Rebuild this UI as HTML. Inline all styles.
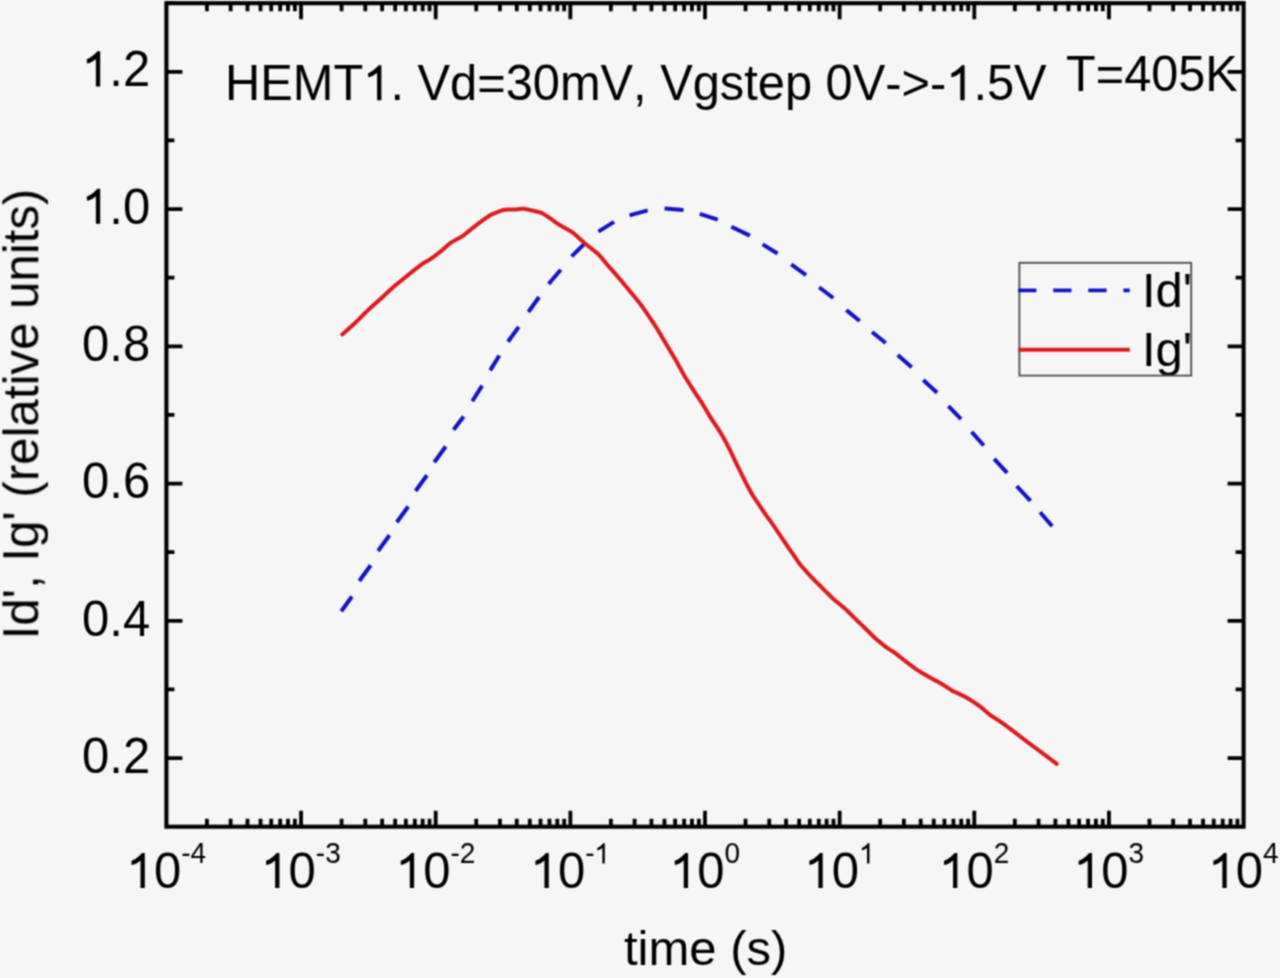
<!DOCTYPE html>
<html><head><meta charset="utf-8"><style>
html,body{margin:0;padding:0;background:#f6f6f6;overflow:hidden;}
svg{display:block;}

text{font-family:"Liberation Sans",sans-serif;font-kerning:none;font-feature-settings:"kern" 0,"liga" 0;white-space:pre;}
</style></head><body>
<svg width="1280" height="978" viewBox="0 0 1280 978">
<defs><filter id="soft" x="0" y="0" width="1280" height="978" filterUnits="userSpaceOnUse" color-interpolation-filters="sRGB"><feConvolveMatrix order="3" kernelMatrix="1 2 1 2 4 2 1 2 1" divisor="16" edgeMode="duplicate"/></filter>
<g id="content" style="font-family:'Liberation Sans',sans-serif;font-kerning:none;font-feature-settings:'kern' 0,'liga' 0;white-space:pre;">
<rect x="0" y="0" width="1280" height="978" fill="#f6f6f6"/>
<path d="M206.93 826.70V818.70M206.93 3.20V11.20M230.64 826.70V818.70M230.64 3.20V11.20M247.47 826.70V818.70M247.47 3.20V11.20M260.52 826.70V818.70M260.52 3.20V11.20M271.18 826.70V818.70M271.18 3.20V11.20M280.19 826.70V818.70M280.19 3.20V11.20M288.00 826.70V818.70M288.00 3.20V11.20M294.89 826.70V818.70M294.89 3.20V11.20M301.05 826.70V810.70M301.05 3.20V19.20M341.58 826.70V818.70M341.58 3.20V11.20M365.29 826.70V818.70M365.29 3.20V11.20M382.12 826.70V818.70M382.12 3.20V11.20M395.17 826.70V818.70M395.17 3.20V11.20M405.83 826.70V818.70M405.83 3.20V11.20M414.84 826.70V818.70M414.84 3.20V11.20M422.65 826.70V818.70M422.65 3.20V11.20M429.54 826.70V818.70M429.54 3.20V11.20M435.70 826.70V810.70M435.70 3.20V19.20M476.23 826.70V818.70M476.23 3.20V11.20M499.94 826.70V818.70M499.94 3.20V11.20M516.77 826.70V818.70M516.77 3.20V11.20M529.82 826.70V818.70M529.82 3.20V11.20M540.48 826.70V818.70M540.48 3.20V11.20M549.49 826.70V818.70M549.49 3.20V11.20M557.30 826.70V818.70M557.30 3.20V11.20M564.19 826.70V818.70M564.19 3.20V11.20M570.35 826.70V810.70M570.35 3.20V19.20M610.88 826.70V818.70M610.88 3.20V11.20M634.59 826.70V818.70M634.59 3.20V11.20M651.42 826.70V818.70M651.42 3.20V11.20M664.47 826.70V818.70M664.47 3.20V11.20M675.13 826.70V818.70M675.13 3.20V11.20M684.14 826.70V818.70M684.14 3.20V11.20M691.95 826.70V818.70M691.95 3.20V11.20M698.84 826.70V818.70M698.84 3.20V11.20M705.00 826.70V810.70M705.00 3.20V19.20M745.53 826.70V818.70M745.53 3.20V11.20M769.24 826.70V818.70M769.24 3.20V11.20M786.07 826.70V818.70M786.07 3.20V11.20M799.12 826.70V818.70M799.12 3.20V11.20M809.78 826.70V818.70M809.78 3.20V11.20M818.79 826.70V818.70M818.79 3.20V11.20M826.60 826.70V818.70M826.60 3.20V11.20M833.49 826.70V818.70M833.49 3.20V11.20M839.65 826.70V810.70M839.65 3.20V19.20M880.18 826.70V818.70M880.18 3.20V11.20M903.89 826.70V818.70M903.89 3.20V11.20M920.72 826.70V818.70M920.72 3.20V11.20M933.77 826.70V818.70M933.77 3.20V11.20M944.43 826.70V818.70M944.43 3.20V11.20M953.44 826.70V818.70M953.44 3.20V11.20M961.25 826.70V818.70M961.25 3.20V11.20M968.14 826.70V818.70M968.14 3.20V11.20M974.30 826.70V810.70M974.30 3.20V19.20M1014.83 826.70V818.70M1014.83 3.20V11.20M1038.54 826.70V818.70M1038.54 3.20V11.20M1055.37 826.70V818.70M1055.37 3.20V11.20M1068.42 826.70V818.70M1068.42 3.20V11.20M1079.08 826.70V818.70M1079.08 3.20V11.20M1088.09 826.70V818.70M1088.09 3.20V11.20M1095.90 826.70V818.70M1095.90 3.20V11.20M1102.79 826.70V818.70M1102.79 3.20V11.20M1108.95 826.70V810.70M1108.95 3.20V19.20M1149.48 826.70V818.70M1149.48 3.20V11.20M1173.19 826.70V818.70M1173.19 3.20V11.20M1190.02 826.70V818.70M1190.02 3.20V11.20M1203.07 826.70V818.70M1203.07 3.20V11.20M1213.73 826.70V818.70M1213.73 3.20V11.20M1222.74 826.70V818.70M1222.74 3.20V11.20M1230.55 826.70V818.70M1230.55 3.20V11.20M1237.44 826.70V818.70M1237.44 3.20V11.20M166.40 758.08H182.40M1243.60 758.08H1227.60M166.40 689.45H174.40M1243.60 689.45H1235.60M166.40 620.83H182.40M1243.60 620.83H1227.60M166.40 552.20H174.40M1243.60 552.20H1235.60M166.40 483.58H182.40M1243.60 483.58H1227.60M166.40 414.95H174.40M1243.60 414.95H1235.60M166.40 346.32H182.40M1243.60 346.32H1227.60M166.40 277.70H174.40M1243.60 277.70H1235.60M166.40 209.08H182.40M1243.60 209.08H1227.60M166.40 140.45H174.40M1243.60 140.45H1235.60M166.40 71.83H182.40M1243.60 71.83H1227.60M166.40 3.20H174.40M1243.60 3.20H1235.60" stroke="#000" stroke-width="3.8" fill="none"/>
<rect x="166.40" y="3.20" width="1077.20" height="823.50" fill="none" stroke="#000" stroke-width="4.1"/>
<path d="M341.25 611.25L351.96 596.53M359.29 580.97L370.71 565.28M378.04 550.97L389.46 535.28M396.79 522.22L408.21 506.53M415.54 490.97L426.96 475.28M434.29 462.22L445.71 446.53M453.58 429.76L463.62 416.44M472.26 401.21L482.14 385.59M490.17 370.42L499.33 355.48M508.00 341.77L518.70 326.93M528.40 311.98L539.10 297.02M548.62 284.02L560.78 269.68M571.65 256.45L584.60 243.55M598.38 231.63L614.02 221.92M629.54 215.31L647.66 210.44M664.60 208.50L683.50 210.10M699.76 213.94L717.74 219.66M731.32 226.68L749.88 235.62M762.58 244.37L777.52 253.53M791.23 264.40L806.07 275.10M819.15 287.27L833.25 298.03M846.37 310.15L859.73 320.95M872.07 331.94L885.68 343.06M897.70 355.01L911.70 367.29M923.21 380.04L937.14 392.71M948.41 406.04L961.09 419.06M971.60 431.91L983.75 445.49M994.18 458.82L1007.12 472.78M1016.68 486.02L1030.52 500.88M1040.12 512.19L1052.20 526.25" stroke="#1212c4" stroke-width="4" fill="none" stroke-linecap="butt"/>
<path d="M342.20 334.50 L343.33 333.51 L344.45 332.51 L345.58 331.52 L346.70 330.52 L347.83 329.53 L348.95 328.53 L350.08 327.54 L351.20 326.54 L352.32 325.54 L353.43 324.53 L354.53 323.50 L355.61 322.46 L356.68 321.41 L357.75 320.35 L358.81 319.29 L359.87 318.23 L360.93 317.17 L361.99 316.11 L363.06 315.04 L364.12 313.98 L365.19 312.93 L366.26 311.87 L367.34 310.84 L368.44 309.81 L369.54 308.79 L370.66 307.78 L371.77 306.78 L372.89 305.77 L374.00 304.77 L375.12 303.76 L376.23 302.75 L377.35 301.75 L378.46 300.74 L379.57 299.73 L380.69 298.72 L381.79 297.71 L382.90 296.69 L384.00 295.67 L385.10 294.65 L386.20 293.63 L387.30 292.60 L388.40 291.58 L389.50 290.56 L390.60 289.54 L391.71 288.53 L392.83 287.53 L393.97 286.55 L395.12 285.58 L396.28 284.63 L397.44 283.68 L398.60 282.73 L399.77 281.78 L400.93 280.83 L402.10 279.88 L403.26 278.93 L404.43 277.98 L405.59 277.04 L406.76 276.09 L407.93 275.15 L409.09 274.20 L410.26 273.26 L411.43 272.32 L412.60 271.37 L413.77 270.43 L414.95 269.50 L416.13 268.57 L417.32 267.66 L418.52 266.76 L419.72 265.86 L420.93 264.96 L422.14 264.08 L423.37 263.23 L424.63 262.41 L425.92 261.65 L427.22 260.92 L428.53 260.19 L429.82 259.43 L431.08 258.62 L432.31 257.77 L433.52 256.88 L434.73 255.98 L435.93 255.08 L437.12 254.17 L438.32 253.27 L439.51 252.35 L440.69 251.42 L441.85 250.47 L442.98 249.49 L444.10 248.49 L445.21 247.48 L446.32 246.47 L447.44 245.46 L448.57 244.48 L449.73 243.55 L450.94 242.68 L452.20 241.87 L453.49 241.11 L454.80 240.37 L456.11 239.65 L457.43 238.92 L458.74 238.19 L460.05 237.46 L461.34 236.70 L462.61 235.91 L463.85 235.06 L465.05 234.17 L466.23 233.25 L467.40 232.31 L468.57 231.36 L469.73 230.41 L470.90 229.47 L472.06 228.52 L473.23 227.57 L474.40 226.63 L475.57 225.69 L476.74 224.75 L477.93 223.83 L479.13 222.93 L480.34 222.05 L481.56 221.18 L482.79 220.31 L484.01 219.44 L485.24 218.57 L486.47 217.71 L487.70 216.85 L488.95 216.02 L490.22 215.25 L491.54 214.55 L492.89 213.92 L494.27 213.34 L495.67 212.78 L497.06 212.24 L498.47 211.70 L499.87 211.16 L501.27 210.65 L502.69 210.20 L504.12 209.86 L505.58 209.65 L507.06 209.57 L508.55 209.57 L510.05 209.60 L511.55 209.62 L513.04 209.61 L514.54 209.54 L516.03 209.42 L517.52 209.27 L519.01 209.10 L520.50 208.94 L521.99 208.84 L523.47 208.84 L524.94 208.97 L526.41 209.20 L527.87 209.51 L529.33 209.84 L530.80 210.18 L532.26 210.52 L533.72 210.85 L535.19 211.18 L536.65 211.51 L538.11 211.86 L539.54 212.26 L540.94 212.75 L542.29 213.36 L543.59 214.07 L544.87 214.84 L546.14 215.64 L547.40 216.45 L548.66 217.28 L549.90 218.12 L551.12 218.99 L552.34 219.87 L553.54 220.77 L554.75 221.66 L555.96 222.54 L557.20 223.40 L558.45 224.21 L559.73 225.00 L561.03 225.76 L562.33 226.51 L563.63 227.25 L564.93 228.00 L566.23 228.75 L567.53 229.50 L568.83 230.25 L570.13 231.01 L571.41 231.79 L572.66 232.61 L573.87 233.48 L575.04 234.41 L576.16 235.40 L577.27 236.41 L578.36 237.44 L579.46 238.47 L580.56 239.49 L581.66 240.51 L582.77 241.52 L583.89 242.52 L585.04 243.48 L586.20 244.43 L587.37 245.37 L588.55 246.31 L589.73 247.24 L590.90 248.17 L592.08 249.11 L593.26 250.04 L594.43 250.98 L595.60 251.92 L596.75 252.87 L597.88 253.86 L598.95 254.90 L599.98 255.99 L600.96 257.11 L601.93 258.26 L602.89 259.42 L603.85 260.57 L604.80 261.73 L605.76 262.89 L606.73 264.04 L607.70 265.18 L608.69 266.31 L609.68 267.44 L610.67 268.57 L611.67 269.69 L612.67 270.81 L613.66 271.94 L614.66 273.06 L615.66 274.18 L616.65 275.31 L617.63 276.45 L618.60 277.59 L619.57 278.74 L620.53 279.89 L621.50 281.05 L622.46 282.20 L623.42 283.35 L624.38 284.51 L625.34 285.66 L626.30 286.81 L627.26 287.97 L628.22 289.12 L629.18 290.28 L630.14 291.44 L631.09 292.60 L632.05 293.76 L633.00 294.92 L633.95 296.08 L634.90 297.25 L635.85 298.41 L636.79 299.58 L637.74 300.74 L638.68 301.91 L639.60 303.10 L640.50 304.30 L641.39 305.51 L642.26 306.73 L643.13 307.96 L643.99 309.19 L644.85 310.42 L645.72 311.65 L646.58 312.88 L647.43 314.11 L648.29 315.35 L649.13 316.59 L649.97 317.84 L650.80 319.09 L651.63 320.34 L652.45 321.59 L653.28 322.85 L654.10 324.10 L654.93 325.36 L655.75 326.62 L656.56 327.88 L657.35 329.15 L658.13 330.44 L658.90 331.73 L659.66 333.03 L660.41 334.32 L661.17 335.62 L661.93 336.92 L662.69 338.21 L663.45 339.51 L664.22 340.80 L664.99 342.09 L665.76 343.38 L666.53 344.66 L667.30 345.95 L668.07 347.24 L668.84 348.53 L669.61 349.82 L670.38 351.11 L671.15 352.40 L671.92 353.69 L672.69 354.98 L673.46 356.27 L674.23 357.56 L674.99 358.85 L675.74 360.15 L676.48 361.46 L677.22 362.77 L677.94 364.08 L678.66 365.40 L679.39 366.72 L680.11 368.03 L680.83 369.35 L681.55 370.67 L682.28 371.98 L683.00 373.30 L683.74 374.61 L684.49 375.91 L685.25 377.20 L686.03 378.48 L686.83 379.76 L687.63 381.03 L688.43 382.30 L689.23 383.57 L690.03 384.84 L690.84 386.11 L691.64 387.38 L692.44 388.64 L693.25 389.91 L694.06 391.18 L694.88 392.44 L695.70 393.69 L696.53 394.94 L697.36 396.19 L698.20 397.44 L699.03 398.69 L699.86 399.94 L700.69 401.19 L701.51 402.45 L702.33 403.71 L703.12 404.99 L703.90 406.27 L704.68 407.56 L705.44 408.85 L706.20 410.14 L706.97 411.43 L707.73 412.73 L708.50 414.02 L709.26 415.31 L710.04 416.60 L710.83 417.87 L711.63 419.14 L712.46 420.40 L713.29 421.65 L714.12 422.90 L714.96 424.14 L715.80 425.39 L716.63 426.64 L717.47 427.89 L718.29 429.14 L719.10 430.41 L719.89 431.68 L720.66 432.97 L721.43 434.26 L722.19 435.56 L722.95 436.85 L723.70 438.15 L724.44 439.46 L725.16 440.78 L725.86 442.10 L726.55 443.44 L727.24 444.77 L727.93 446.11 L728.61 447.44 L729.29 448.78 L729.97 450.12 L730.65 451.46 L731.31 452.81 L731.96 454.17 L732.60 455.52 L733.23 456.88 L733.87 458.25 L734.50 459.61 L735.14 460.97 L735.77 462.33 L736.42 463.68 L737.07 465.04 L737.73 466.38 L738.40 467.73 L739.07 469.08 L739.73 470.42 L740.40 471.77 L741.07 473.11 L741.73 474.46 L742.40 475.80 L743.07 477.15 L743.75 478.49 L744.42 479.83 L745.09 481.18 L745.76 482.52 L746.44 483.86 L747.12 485.20 L747.82 486.53 L748.53 487.85 L749.25 489.17 L749.98 490.48 L750.71 491.79 L751.45 493.10 L752.20 494.40 L752.98 495.68 L753.78 496.95 L754.60 498.21 L755.44 499.46 L756.27 500.70 L757.11 501.95 L757.95 503.19 L758.79 504.44 L759.62 505.69 L760.45 506.94 L761.28 508.19 L762.11 509.44 L762.95 510.69 L763.78 511.94 L764.63 513.18 L765.50 514.41 L766.37 515.62 L767.26 516.84 L768.16 518.04 L769.05 519.25 L769.94 520.46 L770.82 521.68 L771.69 522.90 L772.55 524.13 L773.41 525.36 L774.26 526.60 L775.11 527.84 L775.96 529.08 L776.81 530.31 L777.66 531.55 L778.50 532.79 L779.35 534.04 L780.18 535.28 L781.02 536.53 L781.85 537.78 L782.69 539.03 L783.52 540.28 L784.35 541.53 L785.19 542.78 L786.02 544.03 L786.86 545.28 L787.70 546.52 L788.54 547.76 L789.39 549.01 L790.24 550.24 L791.09 551.48 L791.94 552.72 L792.79 553.95 L793.64 555.19 L794.49 556.43 L795.35 557.66 L796.20 558.90 L797.05 560.14 L797.91 561.37 L798.77 562.60 L799.65 563.81 L800.57 565.00 L801.52 566.15 L802.51 567.29 L803.51 568.40 L804.52 569.52 L805.53 570.63 L806.54 571.74 L807.55 572.85 L808.56 573.96 L809.57 575.07 L810.59 576.17 L811.61 577.28 L812.64 578.37 L813.69 579.45 L814.74 580.51 L815.80 581.57 L816.87 582.63 L817.94 583.69 L819.00 584.75 L820.07 585.80 L821.14 586.86 L822.20 587.92 L823.27 588.98 L824.33 590.04 L825.40 591.10 L826.46 592.16 L827.52 593.22 L828.58 594.28 L829.65 595.34 L830.71 596.40 L831.79 597.44 L832.89 598.47 L834.01 599.47 L835.15 600.44 L836.30 601.41 L837.46 602.36 L838.61 603.32 L839.77 604.27 L840.93 605.23 L842.09 606.18 L843.24 607.15 L844.38 608.12 L845.50 609.12 L846.60 610.15 L847.68 611.19 L848.74 612.25 L849.81 613.31 L850.87 614.37 L851.93 615.43 L852.99 616.49 L854.06 617.55 L855.13 618.61 L856.20 619.66 L857.28 620.70 L858.36 621.75 L859.44 622.79 L860.52 623.83 L861.60 624.87 L862.68 625.91 L863.77 626.96 L864.84 628.00 L865.92 629.05 L866.99 630.10 L868.06 631.16 L869.12 632.22 L870.18 633.28 L871.25 634.34 L872.31 635.40 L873.38 636.46 L874.46 637.49 L875.57 638.51 L876.70 639.49 L877.85 640.46 L879.01 641.41 L880.17 642.36 L881.33 643.31 L882.50 644.26 L883.67 645.20 L884.85 646.13 L886.04 647.04 L887.26 647.91 L888.51 648.75 L889.77 649.56 L891.04 650.36 L892.30 651.17 L893.56 651.99 L894.79 652.84 L896.00 653.73 L897.19 654.64 L898.37 655.57 L899.54 656.51 L900.71 657.45 L901.88 658.39 L903.06 659.33 L904.23 660.26 L905.42 661.18 L906.61 662.09 L907.81 663.00 L909.01 663.90 L910.21 664.80 L911.42 665.70 L912.62 666.60 L913.82 667.49 L915.03 668.38 L916.26 669.26 L917.49 670.10 L918.76 670.91 L920.03 671.70 L921.32 672.47 L922.61 673.24 L923.91 674.00 L925.20 674.76 L926.50 675.52 L927.79 676.28 L929.10 677.02 L930.41 677.76 L931.72 678.48 L933.04 679.20 L934.36 679.91 L935.69 680.62 L937.01 681.33 L938.33 682.05 L939.65 682.77 L940.95 683.51 L942.24 684.27 L943.52 685.06 L944.79 685.87 L946.04 686.69 L947.30 687.51 L948.56 688.33 L949.82 689.14 L951.10 689.92 L952.41 690.66 L953.74 691.35 L955.08 692.01 L956.44 692.65 L957.80 693.29 L959.16 693.93 L960.51 694.58 L961.86 695.24 L963.20 695.91 L964.55 696.58 L965.88 697.27 L967.20 697.98 L968.50 698.73 L969.78 699.51 L971.04 700.32 L972.29 701.15 L973.54 701.99 L974.78 702.83 L976.03 703.67 L977.27 704.51 L978.50 705.37 L979.72 706.25 L980.90 707.16 L982.06 708.11 L983.20 709.09 L984.34 710.07 L985.46 711.06 L986.60 712.05 L987.73 713.03 L988.89 713.98 L990.08 714.89 L991.30 715.75 L992.55 716.59 L993.81 717.40 L995.08 718.21 L996.35 719.01 L997.61 719.82 L998.87 720.64 L1000.12 721.47 L1001.36 722.32 L1002.58 723.19 L1003.79 724.07 L1005.00 724.97 L1006.20 725.87 L1007.41 726.77 L1008.61 727.67 L1009.81 728.57 L1011.01 729.47 L1012.21 730.37 L1013.41 731.28 L1014.61 732.18 L1015.80 733.10 L1016.99 734.01 L1018.18 734.92 L1019.38 735.84 L1020.57 736.75 L1021.76 737.66 L1022.95 738.58 L1024.14 739.49 L1025.34 740.40 L1026.54 741.31 L1027.74 742.21 L1028.94 743.10 L1030.15 744.00 L1031.36 744.89 L1032.57 745.78 L1033.78 746.67 L1034.98 747.57 L1036.19 748.46 L1037.40 749.35 L1038.61 750.24 L1039.81 751.14 L1041.02 752.03 L1042.22 752.93 L1043.42 753.83 L1044.62 754.74 L1045.82 755.64 L1047.02 756.55 L1048.22 757.46 L1049.41 758.36 L1050.61 759.27 L1051.81 760.17 L1053.01 761.08 L1054.20 761.99 L1055.40 762.89 L1056.60 763.80" stroke="#dc1a1e" stroke-width="4" fill="none" stroke-linejoin="round" stroke-linecap="round"/>
<text transform="translate(82.08 86.40) scale(1 1.03)"><tspan x="0.00" y="0.00" font-size="49">&#x2007;.2</tspan></text>
<text transform="translate(82.08 223.74) scale(1 1.03)"><tspan x="0.00" y="0.00" font-size="49">&#x2007;.0</tspan></text>
<text transform="translate(82.08 361.08) scale(1 1.03)"><tspan x="0.00" y="0.00" font-size="49">0.8</tspan></text>
<text transform="translate(82.08 498.42) scale(1 1.03)"><tspan x="0.00" y="0.00" font-size="49">0.6</tspan></text>
<text transform="translate(82.08 635.76) scale(1 1.03)"><tspan x="0.00" y="0.00" font-size="49">0.4</tspan></text>
<text transform="translate(82.08 773.10) scale(1 1.03)"><tspan x="0.00" y="0.00" font-size="49">0.2</tspan></text>
<text transform="translate(126.70 888.00) scale(1 1.03)"><tspan x="0.00" y="0.00" font-size="49">&#x2007;0</tspan><tspan x="54.50" y="-23.88" font-size="28">-4</tspan></text>
<text transform="translate(261.35 888.00) scale(1 1.03)"><tspan x="0.00" y="0.00" font-size="49">&#x2007;0</tspan><tspan x="54.50" y="-23.88" font-size="28">-3</tspan></text>
<text transform="translate(396.00 888.00) scale(1 1.03)"><tspan x="0.00" y="0.00" font-size="49">&#x2007;0</tspan><tspan x="54.50" y="-23.88" font-size="28">-2</tspan></text>
<text transform="translate(530.65 888.00) scale(1 1.03)"><tspan x="0.00" y="0.00" font-size="49">&#x2007;0</tspan><tspan x="54.50" y="-23.88" font-size="28">-&#x2007;</tspan></text>
<text transform="translate(669.96 888.00) scale(1 1.03)"><tspan x="0.00" y="0.00" font-size="49">&#x2007;0</tspan><tspan x="54.50" y="-23.88" font-size="28">0</tspan></text>
<text transform="translate(804.61 888.00) scale(1 1.03)"><tspan x="0.00" y="0.00" font-size="49">&#x2007;0</tspan><tspan x="54.50" y="-23.88" font-size="28">&#x2007;</tspan></text>
<text transform="translate(939.26 888.00) scale(1 1.03)"><tspan x="0.00" y="0.00" font-size="49">&#x2007;0</tspan><tspan x="54.50" y="-23.88" font-size="28">2</tspan></text>
<text transform="translate(1073.91 888.00) scale(1 1.03)"><tspan x="0.00" y="0.00" font-size="49">&#x2007;0</tspan><tspan x="54.50" y="-23.88" font-size="28">3</tspan></text>
<text transform="translate(1208.56 888.00) scale(1 1.03)"><tspan x="0.00" y="0.00" font-size="49">&#x2007;0</tspan><tspan x="54.50" y="-23.88" font-size="28">4</tspan></text>
<text transform="translate(225.10 100.20) scale(1 1.03)"><tspan x="0.00" y="0.00" font-size="48.8">HEMT&#x2007;. Vd=30mV, Vgstep 0V-&gt;-&#x2007;.5V</tspan></text>
<text transform="translate(1066.10 90.90) scale(1 1.03)"><tspan x="0.00" y="0.00" font-size="48.6">T=405K</tspan></text>
<text transform="translate(1141.90 306.60) scale(1 1.0)"><tspan x="0.00" y="0.00" font-size="49">Id&#39;</tspan></text>
<text transform="translate(1141.90 366.00) scale(1 1.0)"><tspan x="0.00" y="0.00" font-size="49">Ig&#39;</tspan></text>
<text transform="translate(624.00 964.50) scale(1 1.0)"><tspan x="0.00" y="0.00" font-size="49">time (s)</tspan></text>
<text transform="translate(38.3 639.4) rotate(-90)" font-size="49.2">Id&#39;, Ig&#39; (relative units)</text>
<g fill="#000"><path transform="translate(82.08 86.40) scale(0.023926 -0.023926)" d="M757 0H577V1150C530 1105 470 1062 400 1025C330 988 265 965 200 960V1135C300 1175 390 1230 470 1300C550 1370 610 1430 640 1466H757Z"/><path transform="translate(82.08 223.74) scale(0.023926 -0.023926)" d="M757 0H577V1150C530 1105 470 1062 400 1025C330 988 265 965 200 960V1135C300 1175 390 1230 470 1300C550 1370 610 1430 640 1466H757Z"/><path transform="translate(126.70 888.00) scale(0.023926 -0.023926)" d="M757 0H577V1150C530 1105 470 1062 400 1025C330 988 265 965 200 960V1135C300 1175 390 1230 470 1300C550 1370 610 1430 640 1466H757Z"/><path transform="translate(261.35 888.00) scale(0.023926 -0.023926)" d="M757 0H577V1150C530 1105 470 1062 400 1025C330 988 265 965 200 960V1135C300 1175 390 1230 470 1300C550 1370 610 1430 640 1466H757Z"/><path transform="translate(396.00 888.00) scale(0.023926 -0.023926)" d="M757 0H577V1150C530 1105 470 1062 400 1025C330 988 265 965 200 960V1135C300 1175 390 1230 470 1300C550 1370 610 1430 640 1466H757Z"/><path transform="translate(530.65 888.00) scale(0.023926 -0.023926)" d="M757 0H577V1150C530 1105 470 1062 400 1025C330 988 265 965 200 960V1135C300 1175 390 1230 470 1300C550 1370 610 1430 640 1466H757Z"/><path transform="translate(594.48 863.40) scale(0.013672 -0.013672)" d="M757 0H577V1150C530 1105 470 1062 400 1025C330 988 265 965 200 960V1135C300 1175 390 1230 470 1300C550 1370 610 1430 640 1466H757Z"/><path transform="translate(669.96 888.00) scale(0.023926 -0.023926)" d="M757 0H577V1150C530 1105 470 1062 400 1025C330 988 265 965 200 960V1135C300 1175 390 1230 470 1300C550 1370 610 1430 640 1466H757Z"/><path transform="translate(804.61 888.00) scale(0.023926 -0.023926)" d="M757 0H577V1150C530 1105 470 1062 400 1025C330 988 265 965 200 960V1135C300 1175 390 1230 470 1300C550 1370 610 1430 640 1466H757Z"/><path transform="translate(859.12 863.40) scale(0.013672 -0.013672)" d="M757 0H577V1150C530 1105 470 1062 400 1025C330 988 265 965 200 960V1135C300 1175 390 1230 470 1300C550 1370 610 1430 640 1466H757Z"/><path transform="translate(939.26 888.00) scale(0.023926 -0.023926)" d="M757 0H577V1150C530 1105 470 1062 400 1025C330 988 265 965 200 960V1135C300 1175 390 1230 470 1300C550 1370 610 1430 640 1466H757Z"/><path transform="translate(1073.91 888.00) scale(0.023926 -0.023926)" d="M757 0H577V1150C530 1105 470 1062 400 1025C330 988 265 965 200 960V1135C300 1175 390 1230 470 1300C550 1370 610 1430 640 1466H757Z"/><path transform="translate(1208.56 888.00) scale(0.023926 -0.023926)" d="M757 0H577V1150C530 1105 470 1062 400 1025C330 988 265 965 200 960V1135C300 1175 390 1230 470 1300C550 1370 610 1430 640 1466H757Z"/><path transform="translate(363.35 100.20) scale(0.023828 -0.023828)" d="M757 0H577V1150C530 1105 470 1062 400 1025C330 988 265 965 200 960V1135C300 1175 390 1230 470 1300C550 1370 610 1430 640 1466H757Z"/><path transform="translate(946.57 100.20) scale(0.023828 -0.023828)" d="M757 0H577V1150C530 1105 470 1062 400 1025C330 988 265 965 200 960V1135C300 1175 390 1230 470 1300C550 1370 610 1430 640 1466H757Z"/></g>
<rect x="1019.4" y="262.8" width="171.8" height="112.8" fill="none" stroke="#4a4a4a" stroke-width="1.8"/>
<path d="M1018.1 290.3 H1129.8" stroke="#1212c4" stroke-width="3.8" stroke-dasharray="18.3 16.8"/>
<path d="M1018.1 349.7 H1129.8" stroke="#dc1a1e" stroke-width="3.9"/>
</g></defs>
<use href="#content"/>
<use href="#content" filter="url(#soft)"/>
</svg>
</body></html>
